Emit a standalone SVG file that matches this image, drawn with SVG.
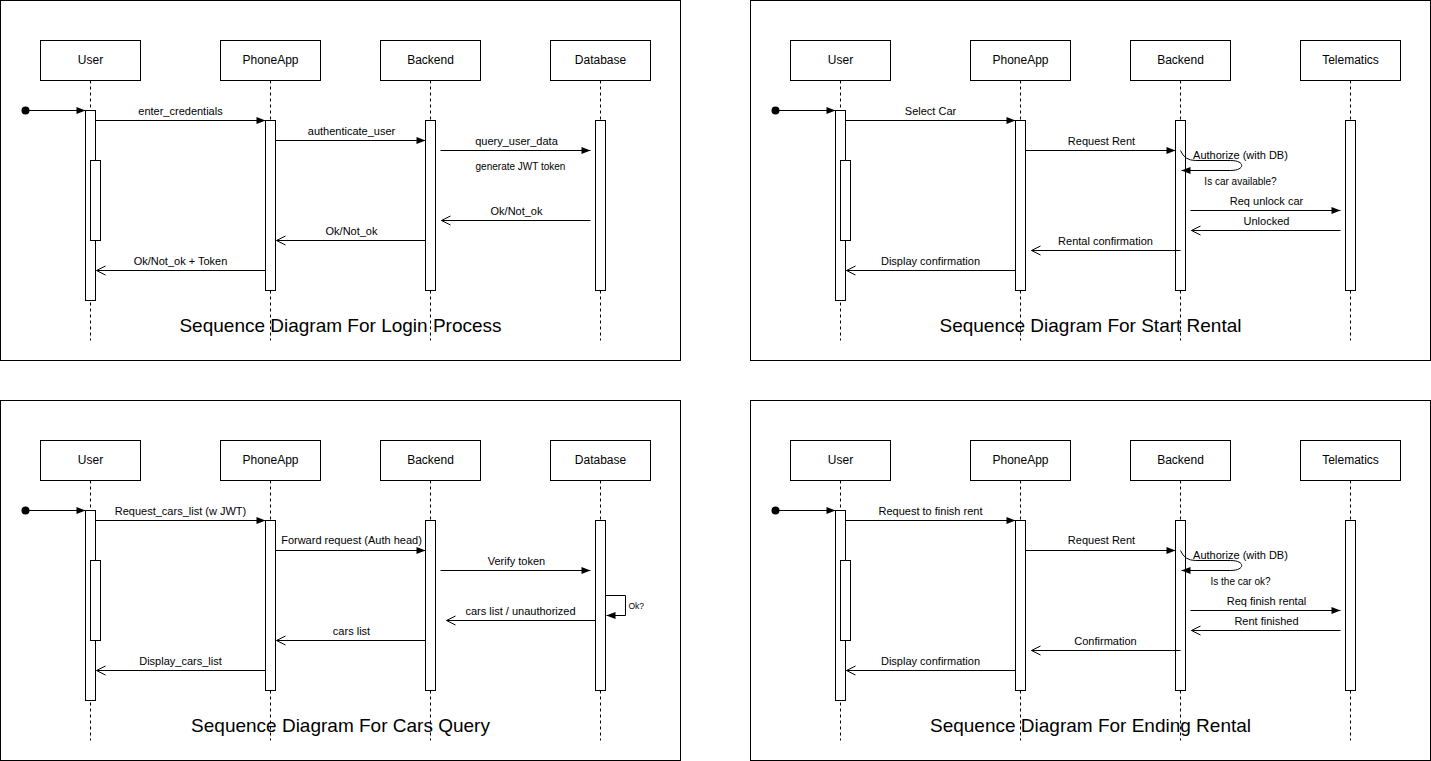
<svg xmlns="http://www.w3.org/2000/svg" width="1431" height="761" viewBox="0 0 1431 761">
<style>
.frame{fill:#fff;stroke:#000;stroke-width:1}
.box{fill:#fff;stroke:#000;stroke-width:1}
.life{stroke:#000;stroke-width:1;stroke-dasharray:3,3;fill:none}
.act{fill:#fff;stroke:#000;stroke-width:1}
.msg{stroke:#000;stroke-width:1;fill:none}
.sync{marker-end:url(#filled)}
.ret{marker-end:url(#open)}
.nt{font-family:"Liberation Sans",Arial,sans-serif;font-size:12px;text-anchor:middle;fill:#000}
.ml{font-family:"Liberation Sans",Arial,sans-serif;font-size:11px;text-anchor:middle;fill:#000}
.sm{font-family:"Liberation Sans",Arial,sans-serif;font-size:10px;text-anchor:middle;fill:#000}
.title{font-family:"Liberation Sans",Arial,sans-serif;font-size:19px;text-anchor:middle;fill:#000}
</style>
<defs>
<marker id="filled" markerUnits="userSpaceOnUse" markerWidth="10" markerHeight="10" refX="10" refY="5" orient="auto">
<path d="M1,1.5 L10,5 L1,8.5 Z" fill="#000"/>
</marker>
<marker id="open" markerUnits="userSpaceOnUse" markerWidth="12" markerHeight="12" refX="10" refY="6" orient="auto">
<path d="M1,1.5 L10,6 L1,10.5" fill="none" stroke="#000" stroke-width="1"/>
</marker>
</defs>
<rect x="0" y="0" width="1431" height="761" fill="#fff"/>
<g transform="translate(0.5,0.5)">

<!-- Panel 1: Login -->
<g id="panel-login">
<rect class="frame" x="0" y="0" width="680" height="360"/>
<g id="login-user"><rect class="box" x="40" y="40" width="100" height="40"/><text class="nt" x="90" y="63">User</text><line class="life" x1="90" y1="80" x2="90" y2="340"/><rect class="act" x="85" y="110" width="10" height="190"/><rect class="act" x="90" y="160" width="10" height="80"/></g>
<g id="login-phoneapp"><rect class="box" x="220" y="40" width="100" height="40"/><text class="nt" x="270" y="63">PhoneApp</text><line class="life" x1="270" y1="80" x2="270" y2="340"/><rect class="act" x="265" y="120" width="10" height="170"/></g>
<g id="login-backend"><rect class="box" x="380" y="40" width="100" height="40"/><text class="nt" x="430" y="63">Backend</text><line class="life" x1="430" y1="80" x2="430" y2="340"/><rect class="act" x="425" y="120" width="10" height="170"/></g>
<g id="login-database"><rect class="box" x="550" y="40" width="100" height="40"/><text class="nt" x="600" y="63">Database</text><line class="life" x1="600" y1="80" x2="600" y2="340"/><rect class="act" x="595" y="120" width="10" height="170"/></g>
<g id="login-connectors">
<circle cx="25" cy="110" r="4" fill="#000"/>
<line class="msg sync" x1="25" y1="110" x2="85" y2="110"/>
<line class="msg sync" x1="95" y1="120" x2="265" y2="120"/><text class="ml" x="180" y="114">enter_credentials</text>
<line class="msg sync" x1="275" y1="140" x2="425" y2="140"/><text class="ml" x="351" y="134">authenticate_user</text>
<line class="msg sync" x1="440" y1="150" x2="590" y2="150"/><text class="ml" x="516" y="144">query_user_data</text>
<text class="sm" x="520" y="169">generate JWT token</text>
<line class="msg ret" x1="590" y1="220" x2="441" y2="220"/><text class="ml" x="516" y="214">Ok/Not_ok</text>
<line class="msg ret" x1="425" y1="240" x2="276" y2="240"/><text class="ml" x="351" y="234">Ok/Not_ok</text>
<line class="msg ret" x1="265" y1="270" x2="96" y2="270"/><text class="ml" x="180" y="264">Ok/Not_ok + Token</text>
</g>
<text class="title" x="340" y="331">Sequence Diagram For Login Process</text>
</g>

<!-- Panel 2: Start Rental -->
<g id="panel-start" transform="translate(750,0)">
<rect class="frame" x="0" y="0" width="680" height="360"/>
<g id="start-user"><rect class="box" x="40" y="40" width="100" height="40"/><text class="nt" x="90" y="63">User</text><line class="life" x1="90" y1="80" x2="90" y2="340"/><rect class="act" x="85" y="110" width="10" height="190"/><rect class="act" x="90" y="160" width="10" height="80"/></g>
<g id="start-phoneapp"><rect class="box" x="220" y="40" width="100" height="40"/><text class="nt" x="270" y="63">PhoneApp</text><line class="life" x1="270" y1="80" x2="270" y2="340"/><rect class="act" x="265" y="120" width="10" height="170"/></g>
<g id="start-backend"><rect class="box" x="380" y="40" width="100" height="40"/><text class="nt" x="430" y="63">Backend</text><line class="life" x1="430" y1="80" x2="430" y2="340"/><rect class="act" x="425" y="120" width="10" height="170"/></g>
<g id="start-telematics"><rect class="box" x="550" y="40" width="100" height="40"/><text class="nt" x="600" y="63">Telematics</text><line class="life" x1="600" y1="80" x2="600" y2="340"/><rect class="act" x="595" y="120" width="10" height="170"/></g>
<g id="start-connectors">
<circle cx="25" cy="110" r="4" fill="#000"/>
<line class="msg sync" x1="25" y1="110" x2="85" y2="110"/>
<line class="msg sync" x1="95" y1="120" x2="265" y2="120"/><text class="ml" x="180" y="114">Select Car</text>
<line class="msg sync" x1="275" y1="150" x2="425" y2="150"/><text class="ml" x="351" y="144">Request Rent</text>
<path class="msg sync" d="M430,150 Q434,160 445,160 L480,160 C495,160 495,170 480,170 L431,170"/>
<text class="ml" x="490" y="158">Authorize (with DB)</text>
<text class="sm" x="490" y="184">Is car available?</text>
<line class="msg sync" x1="440" y1="210" x2="590" y2="210"/><text class="ml" x="516" y="204">Req unlock car</text>
<line class="msg ret" x1="590" y1="230" x2="441" y2="230"/><text class="ml" x="516" y="224">Unlocked</text>
<line class="msg ret" x1="430" y1="250" x2="281" y2="250"/><text class="ml" x="355" y="244">Rental confirmation</text>
<line class="msg ret" x1="265" y1="270" x2="96" y2="270"/><text class="ml" x="180" y="264">Display confirmation</text>
</g>
<text class="title" x="340" y="331">Sequence Diagram For Start Rental</text>
</g>

<!-- Panel 3: Cars Query -->
<g id="panel-cars" transform="translate(0,400)">
<rect class="frame" x="0" y="0" width="680" height="360"/>
<g id="cars-user"><rect class="box" x="40" y="40" width="100" height="40"/><text class="nt" x="90" y="63">User</text><line class="life" x1="90" y1="80" x2="90" y2="340"/><rect class="act" x="85" y="110" width="10" height="190"/><rect class="act" x="90" y="160" width="10" height="80"/></g>
<g id="cars-phoneapp"><rect class="box" x="220" y="40" width="100" height="40"/><text class="nt" x="270" y="63">PhoneApp</text><line class="life" x1="270" y1="80" x2="270" y2="340"/><rect class="act" x="265" y="120" width="10" height="170"/></g>
<g id="cars-backend"><rect class="box" x="380" y="40" width="100" height="40"/><text class="nt" x="430" y="63">Backend</text><line class="life" x1="430" y1="80" x2="430" y2="340"/><rect class="act" x="425" y="120" width="10" height="170"/></g>
<g id="cars-database"><rect class="box" x="550" y="40" width="100" height="40"/><text class="nt" x="600" y="63">Database</text><line class="life" x1="600" y1="80" x2="600" y2="340"/><rect class="act" x="595" y="120" width="10" height="170"/></g>
<g id="cars-connectors">
<circle cx="25" cy="110" r="4" fill="#000"/>
<line class="msg sync" x1="25" y1="110" x2="85" y2="110"/>
<line class="msg sync" x1="95" y1="120" x2="265" y2="120"/><text class="ml" x="180" y="114">Request_cars_list (w JWT)</text>
<line class="msg sync" x1="275" y1="150" x2="425" y2="150"/><text class="ml" x="351" y="143">Forward request (Auth head)</text>
<line class="msg sync" x1="440" y1="170" x2="590" y2="170"/><text class="ml" x="516" y="164">Verify token</text>
<path class="msg sync" d="M605,195 L625,195 L625,215 L606,215"/>
<text class="sm" x="628" y="208" style="text-anchor:start;font-size:8.5px">Ok?</text>
<line class="msg ret" x1="595" y1="220" x2="446" y2="220"/><text class="ml" x="520" y="214">cars list / unauthorized</text>
<line class="msg ret" x1="425" y1="240" x2="276" y2="240"/><text class="ml" x="351" y="234">cars list</text>
<line class="msg ret" x1="265" y1="270" x2="96" y2="270"/><text class="ml" x="180" y="264">Display_cars_list</text>
</g>
<text class="title" x="340" y="331">Sequence Diagram For Cars Query</text>
</g>

<!-- Panel 4: Ending Rental -->
<g id="panel-end" transform="translate(750,400)">
<rect class="frame" x="0" y="0" width="680" height="360"/>
<g id="end-user"><rect class="box" x="40" y="40" width="100" height="40"/><text class="nt" x="90" y="63">User</text><line class="life" x1="90" y1="80" x2="90" y2="340"/><rect class="act" x="85" y="110" width="10" height="190"/><rect class="act" x="90" y="160" width="10" height="80"/></g>
<g id="end-phoneapp"><rect class="box" x="220" y="40" width="100" height="40"/><text class="nt" x="270" y="63">PhoneApp</text><line class="life" x1="270" y1="80" x2="270" y2="340"/><rect class="act" x="265" y="120" width="10" height="170"/></g>
<g id="end-backend"><rect class="box" x="380" y="40" width="100" height="40"/><text class="nt" x="430" y="63">Backend</text><line class="life" x1="430" y1="80" x2="430" y2="340"/><rect class="act" x="425" y="120" width="10" height="170"/></g>
<g id="end-telematics"><rect class="box" x="550" y="40" width="100" height="40"/><text class="nt" x="600" y="63">Telematics</text><line class="life" x1="600" y1="80" x2="600" y2="340"/><rect class="act" x="595" y="120" width="10" height="170"/></g>
<g id="end-connectors">
<circle cx="25" cy="110" r="4" fill="#000"/>
<line class="msg sync" x1="25" y1="110" x2="85" y2="110"/>
<line class="msg sync" x1="95" y1="120" x2="265" y2="120"/><text class="ml" x="180" y="114">Request to finish rent</text>
<line class="msg sync" x1="275" y1="150" x2="425" y2="150"/><text class="ml" x="351" y="143">Request Rent</text>
<path class="msg sync" d="M430,150 Q434,160 445,160 L480,160 C495,160 495,170 480,170 L431,170"/>
<text class="ml" x="490" y="158">Authorize (with DB)</text>
<text class="sm" x="490" y="184">Is the car ok?</text>
<line class="msg sync" x1="440" y1="210" x2="590" y2="210"/><text class="ml" x="516" y="204">Req finish rental</text>
<line class="msg ret" x1="590" y1="230" x2="441" y2="230"/><text class="ml" x="516" y="224">Rent finished</text>
<line class="msg ret" x1="430" y1="250" x2="281" y2="250"/><text class="ml" x="355" y="244">Confirmation</text>
<line class="msg ret" x1="265" y1="270" x2="96" y2="270"/><text class="ml" x="180" y="264">Display confirmation</text>
</g>
<text class="title" x="340" y="331">Sequence Diagram For Ending Rental</text>
</g>

</g>
</svg>
